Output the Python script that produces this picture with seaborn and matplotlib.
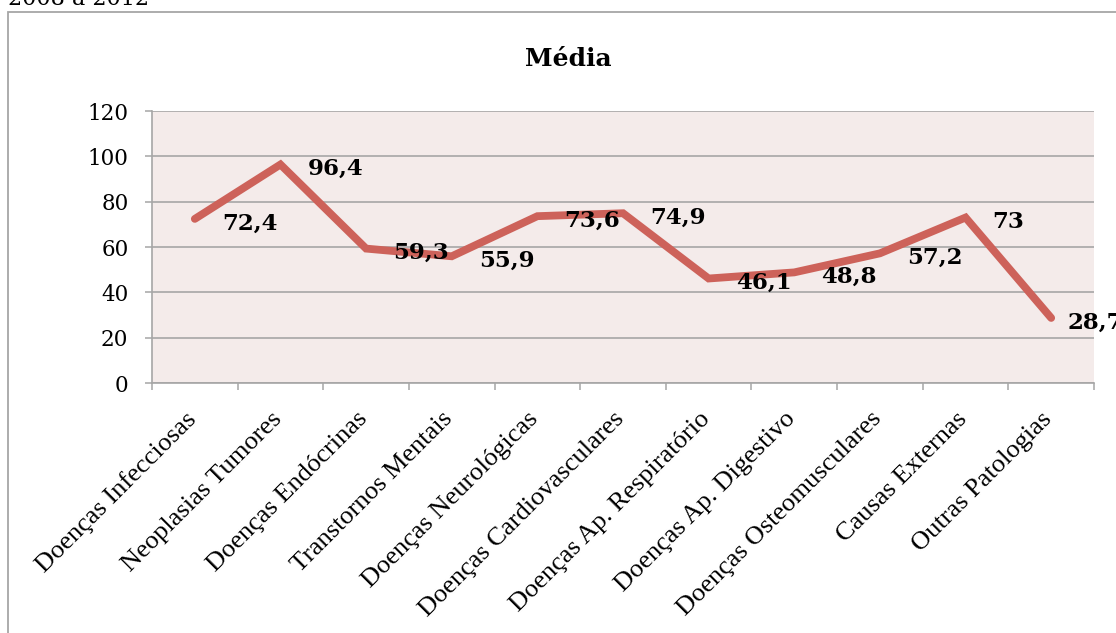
import matplotlib
matplotlib.use("Agg")
import matplotlib.pyplot as plt
from matplotlib.patches import Rectangle
import matplotlib.transforms as mtransforms
import seaborn as sns
import pandas as pd
import numpy as np

# Average by disease group
categorias = [
    "Doenças Infecciosas",
    "Neoplasias Tumores",
    "Doenças Endócrinas",
    "Transtornos Mentais",
    "Doenças Neurológicas",
    "Doenças Cardiovasculares",
    "Doenças Ap. Respiratório",
    "Doenças Ap. Digestivo",
    "Doenças Osteomusculares",
    "Causas Externas",
    "Outras Patologias",
]
medias = [72.4, 96.4, 59.3, 55.9, 73.6, 74.9, 46.1, 48.8, 57.2, 73.0, 28.7]
y_ticks = [0, 20, 40, 60, 80, 100, 120]

titulo = "Média"
cabecalho = "2008 a 2012"

LINE_COLOR = "#CD625A"
GRID_COLOR = "#A6A6A6"
PLOT_BG = "#F4EBEA"

sns.set_style("white")
plt.rcParams["font.family"] = ["DejaVu Serif"]
plt.rcParams["text.color"] = "black"
plt.rcParams["xtick.labelcolor"] = "black"
plt.rcParams["ytick.labelcolor"] = "black"

fig = plt.figure(figsize=(11.16, 6.33), dpi=100)
W, H = 1116, 633
ax = fig.add_axes([152 / W, 1 - 383 / H, (1094 - 152) / W, (383 - 111) / H])

df = pd.DataFrame({"Categoria": categorias, "Média": medias})
sns.lineplot(
    data=df, x="Categoria", y="Média", ax=ax, sort=False,
    color=LINE_COLOR, linewidth=5.6,
    solid_capstyle="round", solid_joinstyle="miter",
)

n = len(categorias)
ax.set_xlim(-0.5, n - 0.5)
ax.set_ylim(y_ticks[0], y_ticks[-1])
ax.set_facecolor(PLOT_BG)

# category boundaries carry the tick marks, centres carry the labels
ax.set_xticks(np.arange(-0.5, n, 1.0), labels=[""] * (n + 1))
ax.set_xticks(np.arange(n), labels=categorias, minor=True)
ax.tick_params(axis="x", which="major", length=5, width=1.1, color=GRID_COLOR,
               direction="out", bottom=True)
ax.tick_params(axis="x", which="minor", length=0, pad=18, labelsize=19)
shift = mtransforms.ScaledTranslation(-10 / 100, 0, fig.dpi_scale_trans)
for lab in ax.get_xticklabels(minor=True):
    lab.set_rotation(45)
    lab.set_ha("right")
    lab.set_va("top")
    lab.set_rotation_mode("anchor")
    lab.set_family(["Liberation Serif"])
    lab.set_color("black")
    lab.set_transform(lab.get_transform() + shift)

ax.set_yticks(y_ticks)
ax.tick_params(axis="y", length=5, width=1.1, color=GRID_COLOR, direction="out",
               left=True, pad=12, labelsize=15.5)

ax.yaxis.grid(True, color=GRID_COLOR, linewidth=1.2)
ax.xaxis.grid(False)
ax.set_axisbelow(True)
for side in ("top", "right"):
    ax.spines[side].set_visible(False)
for side in ("left", "bottom"):
    ax.spines[side].set_color(GRID_COLOR)
    ax.spines[side].set_linewidth(1.2)
ax.set_xlabel("")
ax.set_ylabel("")

# value labels to the right of each point
for i, v in enumerate(medias):
    txt = f"{v:g}".replace(".", ",")
    dx = 27 if i < n - 1 else 16
    ax.annotate(txt, xy=(i, v), xytext=(dx, -2), textcoords="offset pixels",
                ha="left", va="center_baseline", fontsize=16.5, fontweight="bold",
                color="black", annotation_clip=False)

fig.text(568.5 / W, 1 - 66 / H, titulo, ha="center", va="baseline",
         fontsize=18, fontweight="bold", color="black")
fig.text(8 / W, 1 - 5 / H, cabecalho, ha="left", va="baseline", fontsize=16,
         color="black")

# outer chart frame
fig.patches.append(Rectangle((8 / W, -0.1), 1.2, 1.1 - 12 / H,
                             transform=fig.transFigure, fill=False,
                             edgecolor=GRID_COLOR, linewidth=1.3))

fig.savefig("out.png", dpi=100)
